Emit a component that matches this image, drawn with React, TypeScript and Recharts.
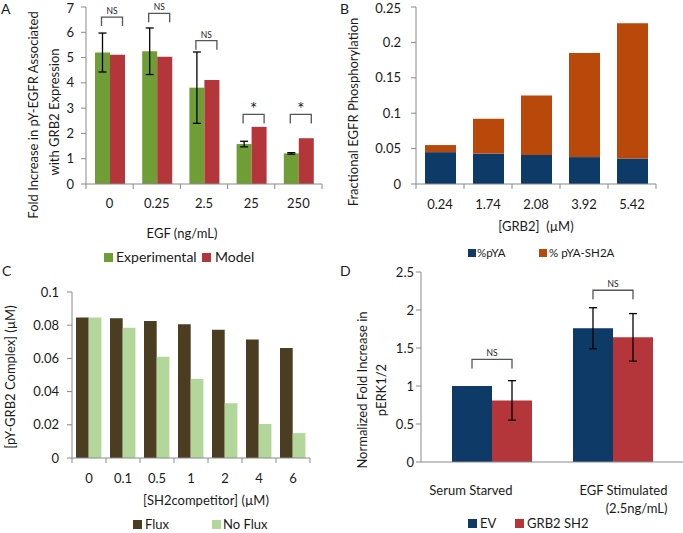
import React from "react";
import { BarChart, Bar, XAxis, YAxis, ErrorBar } from "recharts";

// Panel A: pY-EGFR associated with GRB2, experiment vs model
const egfDoses = ["0", "0.25", "2.5", "25", "250"];
const expFold = [5.2, 5.25, 3.81, 1.58, 1.21];
const expFoldErr = [0.77, 0.92, 1.41, 0.11, 0.03];
const modelFold = [5.11, 5.03, 4.11, 2.26, 1.81];
const foldSig = ["NS", "NS", "NS", "*", "*"];
const foldSigLevel = [6.6, 6.75, 5.67, 2.75, 2.75];

// Panel B: fractional EGFR phosphorylation (stacked)
const grb2Conc = ["0.24", "1.74", "2.08", "3.92", "5.42"];
const pYA = [0.045, 0.043, 0.041, 0.038, 0.036];
const pYASH2A = [0.01, 0.049, 0.084, 0.147, 0.191];

// Panel C: pY-GRB2 complex vs SH2 competitor
const competitorConc = ["0", "0.1", "0.5", "1", "2", "4", "6"];
const fluxVals = [0.0846, 0.0842, 0.0826, 0.0806, 0.0772, 0.0714, 0.0662];
const noFluxVals = [0.0846, 0.0784, 0.061, 0.0476, 0.033, 0.0205, 0.015];

// Panel D: pERK1/2
const conditions = [["Serum Starved"], ["EGF Stimulated", "(2.5ng/mL)"]];
const evVals = [1.0, 1.76];
const evErr = [null, 0.27];
const sh2Vals = [0.81, 1.64];
const sh2Err = [0.26, 0.313];
const erkSig = ["NS", "NS"];
const erkSigLevel = [1.35, 2.26];

const FONT = "Lato, 'Noto Sans', sans-serif";
const AXIS = "#8a8a8a";
const TXT = "#1a1a1a";
const GREEN = "#709E36";
const RED = "#B5363A";
const NAVY = "#0E3A68";
const ORANGE = "#B8490B";
const BROWN = "#4A3D22";
const LIGHT = "#B3D79B";

const dataA = egfDoses.map((d, i) => ({
  dose: d,
  exp: expFold[i],
  expErr: expFoldErr[i],
  model: modelFold[i],
  sig: foldSig[i],
  level: foldSigLevel[i],
}));
const dataB = grb2Conc.map((c, i) => ({ conc: c, pya: pYA[i], sh2a: pYASH2A[i] }));
const dataC = competitorConc.map((c, i) => ({ conc: c, flux: fluxVals[i], noflux: noFluxVals[i] }));
const dataD = conditions.map((c, i) => ({
  cond: c.join(" "),
  ev: evVals[i],
  evErr: evErr[i],
  sh2: sh2Vals[i],
  sh2Err: sh2Err[i],
  sig: erkSig[i],
  level: erkSigLevel[i],
}));

// bar shape that also draws the significance bracket over its group
function sigShape(valueKey: string, padL: number, padR: number, starSize: number) {
  return (props: any) => {
    const { x, y, width, height, fill, payload } = props;
    const perUnit = height / payload[valueKey];
    const top = y + height - payload.level * perUnit;
    const x1 = x + width / 2 + padL;
    const x2 = x + width * 1.5 + padR;
    const star = payload.sig === "*";
    return (
      <g>
        <rect x={x} y={y} width={width} height={height} fill={fill} />
        <path
          d={`M${x1},${top + 9}V${top}H${x2}V${top + 9}`}
          stroke="#555"
          strokeWidth={1.3}
          fill="none"
        />
        <text
          x={(x1 + x2) / 2}
          y={star ? top + 1 : top - 3}
          textAnchor="middle"
          fontFamily={FONT}
          fontSize={star ? starSize : 8.5}
          fill={TXT}
        >
          {payload.sig}
        </text>
      </g>
    );
  };
}

// category tick with Excel-style marks between categories
function catTick(band: number, dy: number, count: number) {
  return (props: any) => {
    const { x, y, payload, index } = props;
    return (
      <g>
        <line x1={x - band / 2} x2={x - band / 2} y1={y} y2={y + 5} stroke={AXIS} />
        {index === count - 1 && (
          <line x1={x + band / 2} x2={x + band / 2} y1={y} y2={y + 5} stroke={AXIS} />
        )}
        <text x={x} y={y + dy} textAnchor="middle" fontFamily={FONT} fontSize={13} fill={TXT}>
          {payload.value}
        </text>
      </g>
    );
  };
}

const condTick = (props: any) => {
  const { x, y, index } = props;
  const lines = conditions[index] || [];
  const ends = [21, 55];
  return (
    <g>
      {lines.map((l, k) => (
        <text
          key={k}
          x={x + ends[index]}
          y={y + 33 + k * 18}
          textAnchor="end"
          fontFamily={FONT}
          fontSize={13}
          fill={TXT}
        >
          {l}
        </text>
      ))}
    </g>
  );
};

const yTick = { fontFamily: FONT, fontSize: 13, fill: TXT };

function VText({ x, y, children, size = 13 }: any) {
  return (
    <text
      transform={`translate(${x},${y}) rotate(-90)`}
      textAnchor="middle"
      fontFamily={FONT}
      fontSize={size}
      fill={TXT}
    >
      {children}
    </text>
  );
}

function Txt({ x, y, children, size = 13, anchor = "start" }: any) {
  return (
    <text
      x={x}
      y={y}
      textAnchor={anchor}
      fontFamily={FONT}
      fontSize={size}
      fill={TXT}
      style={{ whiteSpace: "pre" }}
    >
      {children}
    </text>
  );
}

export default function App() {
  return (
    <div style={{ position: "absolute", left: 0, top: 0, width: 683, height: 533, background: "#fff" }}>
      <div style={{ position: "absolute", left: 0, top: 0 }}>
        <BarChart width={340} height={270} data={dataA} margin={{ top: 7, right: 18, bottom: 66, left: 0 }} barGap={0} barSize={15}>
          <XAxis dataKey="dose" height={20} stroke={AXIS} tickLine={false} tickSize={0} tickMargin={0} tick={catTick(47.2, 24, 5)} interval={0} />
          <YAxis width={86} domain={[0, 7]} ticks={[0, 1, 2, 3, 4, 5, 6, 7]} stroke={AXIS} tickSize={5} tickMargin={7} tick={yTick} />
          <Bar dataKey="exp" fill={GREEN} isAnimationActive={false} shape={sigShape("exp", -1, 5, 17)}>
            <ErrorBar dataKey="expErr" width={4} stroke="#000" strokeWidth={1.3} />
          </Bar>
          <Bar dataKey="model" fill={RED} isAnimationActive={false} />
        </BarChart>
      </div>

      <div style={{ position: "absolute", left: 340, top: 0 }}>
        <BarChart width={343} height={270} data={dataB} margin={{ top: 7, right: 27, bottom: 66, left: 0 }} barSize={31}>
          <XAxis dataKey="conc" height={20} stroke={AXIS} tickLine={false} tickSize={0} tickMargin={0} tick={catTick(48, 25, 5)} interval={0} />
          <YAxis width={76} domain={[0, 0.25]} ticks={[0, 0.05, 0.1, 0.15, 0.2, 0.25]} stroke={AXIS} tickSize={5} tickMargin={10} tick={yTick} />
          <Bar dataKey="pya" stackId="s" fill={NAVY} isAnimationActive={false} />
          <Bar dataKey="sh2a" stackId="s" fill={ORANGE} isAnimationActive={false} />
        </BarChart>
      </div>

      <div style={{ position: "absolute", left: 0, top: 262 }}>
        <BarChart width={340} height={271} data={dataC} margin={{ top: 30, right: 30, bottom: 55, left: 0 }} barGap={0} barSize={12.7}>
          <XAxis dataKey="conc" height={20} stroke={AXIS} tickLine={false} tickSize={0} tickMargin={0} tick={catTick(34, 25, 7)} interval={0} />
          <YAxis width={72} domain={[0, 0.1]} ticks={[0, 0.02, 0.04, 0.06, 0.08, 0.1]} stroke={AXIS} tickSize={5} tickMargin={8} tick={yTick} />
          <Bar dataKey="flux" fill={BROWN} isAnimationActive={false} />
          <Bar dataKey="noflux" fill={LIGHT} isAnimationActive={false} />
        </BarChart>
      </div>

      <div style={{ position: "absolute", left: 340, top: 262 }}>
        <BarChart width={343} height={271} data={dataD} margin={{ top: 10, right: 0, bottom: 51, left: 0 }} barGap={0} barSize={40}>
          <XAxis dataKey="cond" height={20} stroke={AXIS} tickLine={false} tickSize={0} tickMargin={0} padding={{ left: 10, right: 10 }} tick={condTick} interval={0} />
          <YAxis width={81} domain={[0, 2.5]} ticks={[0, 0.5, 1, 1.5, 2, 2.5]} stroke={AXIS} tickSize={5} tickMargin={2} tick={yTick} />
          <Bar dataKey="ev" fill={NAVY} isAnimationActive={false} shape={sigShape("ev", 0, 0, 17)}>
            <ErrorBar dataKey="evErr" width={4} stroke="#000" strokeWidth={1.3} />
          </Bar>
          <Bar dataKey="sh2" fill={RED} isAnimationActive={false}>
            <ErrorBar dataKey="sh2Err" width={4} stroke="#000" strokeWidth={1.3} />
          </Bar>
        </BarChart>
      </div>

      <svg width={683} height={533} style={{ position: "absolute", left: 0, top: 0, pointerEvents: "none" }}>
        {/* panel letters */}
        <Txt x={1} y={14} size={14}>A</Txt>
        <Txt x={340} y={14} size={14}>B</Txt>
        <Txt x={2} y={276} size={14}>C</Txt>
        <Txt x={340} y={276} size={14}>D</Txt>

        {/* A */}
        <VText x={38} y={115}>Fold Increase in pY-EGFR Associated</VText>
        <VText x={59} y={112}>with GRB2 Expression</VText>
        <Txt x={182} y={238} anchor="middle">EGF (ng/mL)</Txt>
        <rect x={104} y={253} width={9} height={9} fill={GREEN} />
        <Txt x={116} y={262} size={14}>Experimental</Txt>
        <rect x={202} y={253} width={9} height={9} fill={RED} />
        <Txt x={215} y={262} size={14}>Model</Txt>

        {/* B */}
        <VText x={358} y={112}>Fractional EGFR Phosphorylation</VText>
        <Txt x={536} y={231} anchor="middle">{"[GRB2]  (\u00b5M)"}</Txt>
        <rect x={468} y={249} width={8} height={8} fill={NAVY} />
        <Txt x={477} y={257} size={11.5}>%pYA</Txt>
        <rect x={539} y={249} width={8} height={8} fill={ORANGE} />
        <Txt x={549} y={257} size={11.5}>% pYA-SH2A</Txt>

        {/* C */}
        <VText x={15} y={377}>{"[pY-GRB2 Complex] (\u00b5M)"}</VText>
        <Txt x={206} y={505} anchor="middle">{"[SH2competitor] (\u00b5M)"}</Txt>
        <rect x={133} y={520} width={9} height={9} fill={BROWN} />
        <Txt x={145} y={529}>Flux</Txt>
        <rect x={212} y={520} width={9} height={9} fill={LIGHT} />
        <Txt x={223} y={529}>No Flux</Txt>

        {/* D */}
        <VText x={367} y={390}>Normalized Fold Increase in</VText>
        <VText x={386} y={390}>pERK1/2</VText>
        <rect x={468} y={519} width={9} height={9} fill={NAVY} />
        <Txt x={480} y={528}>EV</Txt>
        <rect x={515} y={519} width={9} height={9} fill={RED} />
        <Txt x={527} y={528}>GRB2 SH2</Txt>
      </svg>
    </div>
  );
}
